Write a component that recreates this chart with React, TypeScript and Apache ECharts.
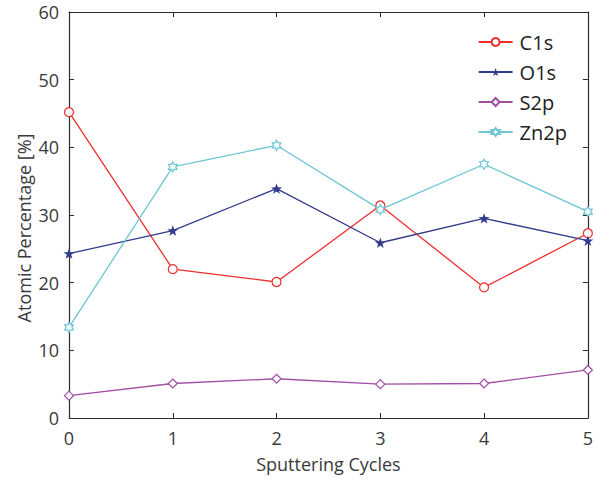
import React, { useEffect, useRef } from "react";
import * as echarts from "echarts";

const cycles = [0, 1, 2, 3, 4, 5];
const c1s = [45.2, 22.0, 20.1, 31.4, 19.3, 27.3];
const o1s = [24.3, 27.7, 33.9, 25.9, 29.5, 26.2];
const s2p = [3.3, 5.1, 5.8, 5.0, 5.1, 7.1];
const zn2p = [13.4, 37.1, 40.3, 30.8, 37.5, 30.5];
const yTicks = [0, 10, 20, 30, 40, 50, 60];

const STAR =
  "path://M0,-10 L2.35,-3.24 L9.51,-3.09 L3.8,1.24 L5.88,8.09 L0,4 L-5.88,8.09 L-3.8,1.24 L-9.51,-3.09 L-2.35,-3.24 Z";
const HEXAGRAM =
  "path://M0,-10 L2.89,-5 L8.66,-5 L5.77,0 L8.66,5 L2.89,5 L0,10 L-2.89,5 L-8.66,5 L-5.77,0 L-8.66,-5 L-2.89,-5 Z";

const FONT = "'Open Sans', 'Noto Sans', sans-serif";
const AXIS_COLOR = "#2b2b2b";
const TEXT_COLOR = "#3a3a3a";

const pairs = (vals: number[]) => cycles.map((c, i) => [c, vals[i]]);

export default function App() {
  const ref = useRef<HTMLDivElement>(null);

  useEffect(() => {
    if (!ref.current) return;
    const chart = echarts.init(ref.current, undefined, { renderer: "svg" });

    const line = (
      name: string,
      vals: number[],
      color: string,
      symbol: string,
      size: number,
      filled: boolean
    ) => ({
      name,
      type: "line",
      data: pairs(vals),
      symbol,
      symbolSize: size,
      symbolKeepAspect: true,
      showAllSymbol: true,
      lineStyle: { color, width: 1.3 },
      itemStyle: filled
        ? { color, borderColor: color, borderWidth: 0 }
        : { color: "#ffffff", borderColor: color, borderWidth: 1.2 },
      emphasis: { disabled: true },
      z: 3,
    });

    const valueTickLabels = yTicks.map(String);
    const tick = { show: true, inside: true, length: 5, lineStyle: { color: AXIS_COLOR } };
    const axisLine = { show: true, onZero: false, lineStyle: { color: AXIS_COLOR, width: 1.2 } };

    chart.setOption({
      animation: false,
      backgroundColor: "#ffffff",
      textStyle: { fontFamily: FONT },
      grid: { left: 69, top: 12, right: 5, bottom: 66, containLabel: false },
      legend: {
        orient: "vertical",
        right: 24,
        top: 27,
        itemWidth: 34,
        itemHeight: 10,
        itemGap: 10,
        textStyle: { fontSize: 20, color: "#222", fontFamily: FONT, padding: [0, 0, 0, 2] },
        data: ["C1s", "O1s", "S2p", "Zn2p"],
      },
      // y-axis title, placed as free text so it sits slightly below the plot's centre
      graphic: [
        {
          type: "text",
          x: 24,
          y: 228,
          rotation: Math.PI / 2,
          style: {
            text: "Atomic Percentage [%]",
            fontSize: 18,
            fontFamily: FONT,
            fill: TEXT_COLOR,
            align: "center",
            verticalAlign: "middle",
          },
        },
      ],
      xAxis: [
        {
          type: "value",
          min: 0,
          max: 5,
          interval: 1,
          name: "Sputtering Cycles",
          nameLocation: "middle",
          nameGap: 37,
          nameTextStyle: { fontSize: 18, color: TEXT_COLOR, fontFamily: FONT },
          axisLine,
          axisTick: tick,
          axisLabel: { fontSize: 18, color: TEXT_COLOR, margin: 11, fontFamily: FONT },
          splitLine: { show: false },
        },
        {
          type: "value",
          position: "top",
          min: 0,
          max: 5,
          interval: 1,
          axisLine,
          axisTick: tick,
          axisLabel: { show: false },
          splitLine: { show: false },
        },
      ],
      yAxis: [
        {
          type: "value",
          min: 0,
          max: 60,
          interval: 10,
          axisLine,
          axisTick: tick,
          axisLabel: {
            fontSize: 18,
            color: TEXT_COLOR,
            margin: 10,
            fontFamily: FONT,
            formatter: (v: number) => valueTickLabels[yTicks.indexOf(v)] ?? String(v),
          },
          splitLine: { show: false },
        },
        {
          type: "value",
          position: "right",
          min: 0,
          max: 60,
          interval: 10,
          axisLine,
          axisTick: tick,
          axisLabel: { show: false },
          splitLine: { show: false },
        },
      ],
      series: [
        line("C1s", c1s, "#ee2e2e", "circle", 9, false),
        line("O1s", o1s, "#323c8c", STAR, 11, true),
        line("S2p", s2p, "#a24ea6", "diamond", 9, false),
        line("Zn2p", zn2p, "#6cc5d3", HEXAGRAM, 10, false),
      ],
    });

    return () => chart.dispose();
  }, []);

  return (
    <div
      ref={ref}
      style={{ position: "fixed", left: 0, top: 0, width: 596, height: 484, background: "#fff" }}
    />
  );
}
